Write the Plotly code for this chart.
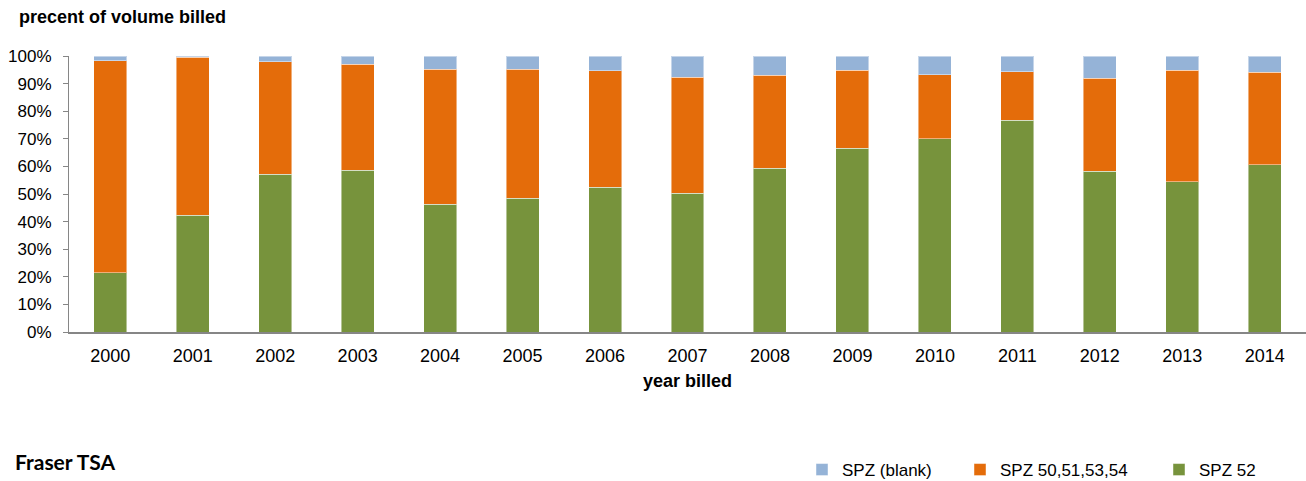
import plotly.graph_objects as go

# Volume billed by SPZ group, share of total per year (fractions)
years = ["2000", "2001", "2002", "2003", "2004", "2005", "2006", "2007",
         "2008", "2009", "2010", "2011", "2012", "2013", "2014"]
spz_52 = [0.215, 0.423, 0.571, 0.586, 0.463, 0.485, 0.525, 0.503,
          0.593, 0.665, 0.700, 0.767, 0.583, 0.545, 0.606]
spz_50_51_53_54 = [0.768, 0.572, 0.408, 0.384, 0.489, 0.467, 0.422, 0.420,
                   0.337, 0.283, 0.232, 0.176, 0.336, 0.404, 0.336]
spz_blank = [0.017, 0.005, 0.021, 0.030, 0.048, 0.048, 0.053, 0.077,
             0.070, 0.052, 0.068, 0.057, 0.081, 0.051, 0.058]
y_ticks = [0.0, 0.1, 0.2, 0.3, 0.4, 0.5, 0.6, 0.7, 0.8, 0.9, 1.0]
y_tick_labels = ["0%", "10%", "20%", "30%", "40%", "50%", "60%", "70%",
                 "80%", "90%", "100%"]

FONT = "Liberation Sans, Arial, sans-serif"
W, H = 1306, 481
M_L, M_R, M_T, M_B = 69, 0, 56, 149
PLOT_W = W - M_L - M_R
PLOT_H = H - M_T - M_B

fig = go.Figure()
fig.add_trace(go.Bar(
    x=years, y=spz_52, name="SPZ 52", legend="legend3",
    marker=dict(color="#77933C", line=dict(color="rgba(255,255,255,0.45)", width=1)),
    width=0.4,
))
fig.add_trace(go.Bar(
    x=years, y=spz_50_51_53_54, name="SPZ 50,51,53,54", legend="legend2",
    marker=dict(color="#E46C0A", line=dict(color="rgba(255,255,255,0.45)", width=1)),
    width=0.4,
))
fig.add_trace(go.Bar(
    x=years, y=spz_blank, name="SPZ (blank)", legend="legend",
    marker=dict(color="#95B3D7", line=dict(color="rgba(255,255,255,0.45)", width=1)),
    width=0.4,
))

legend_common = dict(
    orientation="h", xref="container", yref="container",
    xanchor="left", yanchor="middle", y=1 - 470 / H,
    font=dict(family=FONT, size=17, color="#000000"),
    bgcolor="rgba(0,0,0,0)", borderwidth=0,
)

fig.update_layout(
    width=W, height=H,
    margin=dict(l=M_L, r=M_R, t=M_T, b=M_B, pad=0),
    paper_bgcolor="white", plot_bgcolor="white",
    barmode="stack", bargap=0.6,
    showlegend=True,
    font=dict(family=FONT, size=17, color="#000000"),
    title=dict(
        text="<b>precent of volume billed</b>",
        xref="container", yref="container",
        x=19 / W, xanchor="left", y=1 - 17 / H, yanchor="middle",
        font=dict(family=FONT, size=18, color="#000000"),
    ),
    legend=dict(legend_common, x=(822 - 20) / W),
    legend2=dict(legend_common, x=(980 - 20) / W),
    legend3=dict(legend_common, x=(1179 - 20) / W),
    xaxis=dict(
        showline=True, linecolor="#868686", linewidth=1.5,
        ticks="", showgrid=False, zeroline=False,
        tickfont=dict(family=FONT, size=18, color="#000000"),
        ticklabelstandoff=7,
        title=dict(text="<b>year billed</b>", standoff=9,
                   font=dict(family=FONT, size=18, color="#000000")),
    ),
    yaxis=dict(
        range=[0, 1], tickvals=y_ticks, ticktext=y_tick_labels,
        showline=True, linecolor="#868686", linewidth=1,
        ticks="outside", ticklen=5, tickcolor="#868686",
        showgrid=False, zeroline=False,
        tickfont=dict(family=FONT, size=17, color="#000000"),
        ticklabelstandoff=8,
    ),
    annotations=[dict(
        text="<b>Fraser TSA</b>", xref="paper", yref="paper",
        x=(13 - M_L) / PLOT_W, y=(H - M_B - 461) / PLOT_H,
        xanchor="left", yanchor="middle",
        showarrow=False,
        font=dict(family="Lato, Open Sans, sans-serif", size=21, color="#000000"),
    )],
)

fig.write_html("out.html")
